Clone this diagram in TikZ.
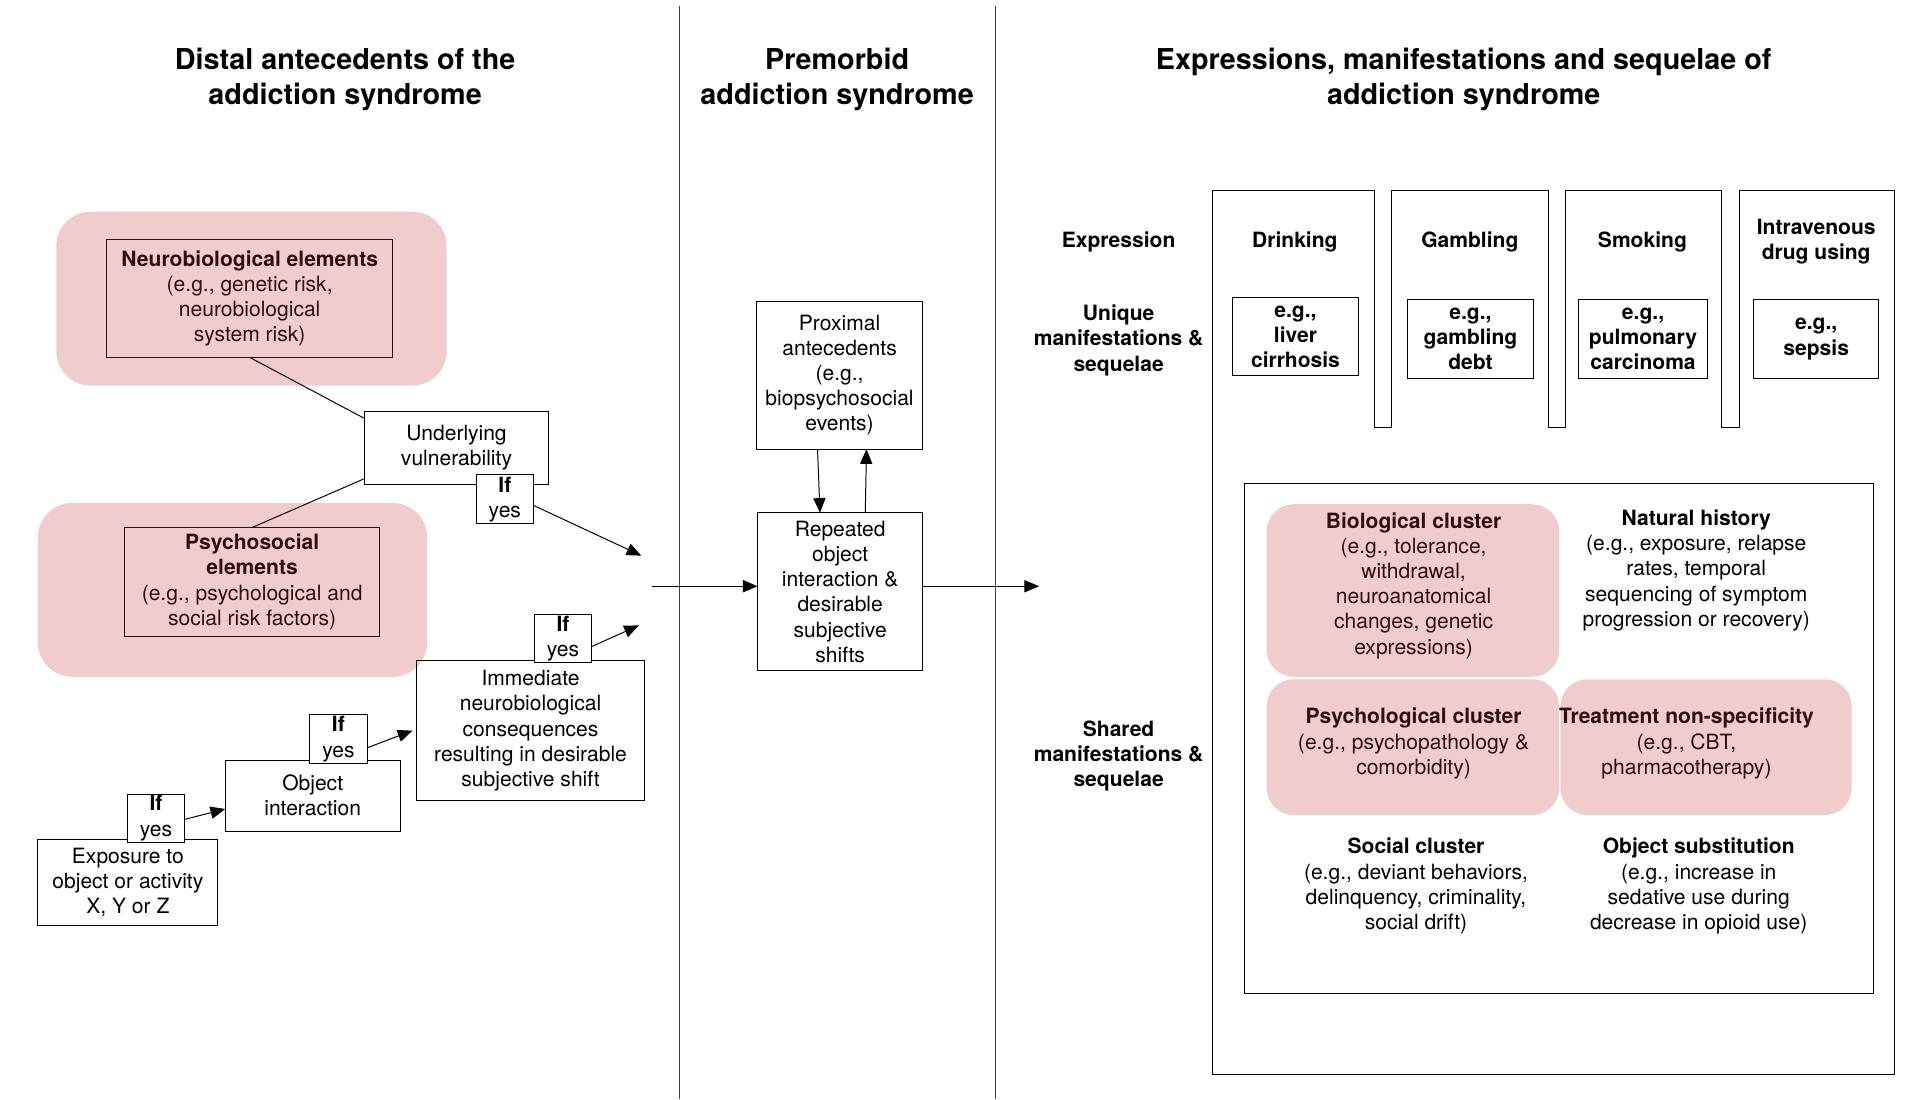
\documentclass[tikz,border=0pt]{standalone}
\usepackage{fontspec}
\setmainfont{TeX Gyre Heros}
\usetikzlibrary{arrows.meta}
\definecolor{pinkfill}{RGB}{240,204,205}
\definecolor{pinkink}{RGB}{45,15,15}
\begin{document}
\begin{tikzpicture}[x={(1pt,0pt)},y={(0pt,-1pt)},
  every node/.style={inner sep=0pt, outer sep=0pt, align=center, font=\fontsize{17.2}{20.6}\selectfont},
  box/.style={draw=black, line width=0.8pt},
  ifbox/.style={draw=black, fill=white, line width=0.8pt, minimum width=47pt, minimum height=40pt},
  pinkbg/.style={fill=pinkfill, rounded corners=28pt},
  cluster/.style={fill=pinkfill, rounded corners=22pt},
  head/.style={font=\fontsize{23.5}{28}\selectfont\bfseries},
  bold/.style={font=\fontsize{17.2}{20.6}\selectfont\bfseries},
  link/.style={line width=0.8pt},
  flow/.style={line width=0.8pt, -{Triangle[length=12pt,width=10pt]}}]
\useasboundingbox (0,0) rectangle (1568,898);

% column rules and titles
\draw[line width=0.8pt, black!75] (555,5) -- (555,898);
\draw[line width=0.8pt, black!75] (813,5) -- (813,898);
\node[head] (t1) at (282,65) {Distal antecedents of the\\addiction syndrome};
\node[head] (t2) at (684,65) {Premorbid\\addiction syndrome};
\node[head] (t3) at (1196,65) {Expressions, manifestations and sequelae of\\addiction syndrome};

% distal antecedents
\node[pinkbg, minimum width=319pt, minimum height=142pt] (neuropink) at (205.5,244) {};
\node[pinkbg, minimum width=318pt, minimum height=142pt] (psychopink) at (190,482) {};
\node[box, draw=pinkink, text=pinkink, minimum width=234pt, minimum height=96pt] (neuro) at (204,244) {\textbf{Neurobiological elements}\\(e.g., genetic risk,\\neurobiological\\system risk)};
\node[box, draw=pinkink, text=pinkink, minimum width=208pt, minimum height=89pt] (psycho) at (206,475.5) {\textbf{Psychosocial}\\\textbf{elements}\\(e.g., psychological and\\social risk factors)};
\node[box, fill=white, minimum width=150pt, minimum height=60pt] (vuln) at (373,366) {Underlying\\vulnerability};
\node[box, minimum width=187pt, minimum height=114pt] (immed) at (433.5,597) {Immediate\\neurobiological\\consequences\\resulting in desirable\\subjective shift};
\node[box, minimum width=143pt, minimum height=58pt] (objint) at (255.5,650) {Object\\interaction};
\node[box, minimum width=147pt, minimum height=70pt] (expo) at (104.5,721) {Exposure to\\object or activity\\X, Y or Z};
\node[ifbox] (ify1) at (412.5,408) {\textbf{If}\\yes};
\node[ifbox, minimum width=46pt, minimum height=39pt] (ify2) at (460,521.5) {\textbf{If}\\yes};
\node[ifbox] (ify3) at (276.5,604) {\textbf{If}\\yes};
\node[ifbox, minimum height=39pt] (ify4) at (127.5,668.5) {\textbf{If}\\yes};
\coordinate (end1) at (524,454);
\coordinate (end2) at (522,511);

\draw[link] (neuro.south) -- ([yshift=-6pt]vuln.north west);
\draw[link] ([yshift=5pt]vuln.south west) -- (psycho.north);
\draw[flow] ([yshift=-5pt]ify1.east) -- (end1);
\draw[flow] ([yshift=-7pt]ify2.east) -- (end2);
\draw[flow] ([yshift=-7pt]ify3.east) -- ([xshift=-3pt]immed.west);
\draw[flow] ([yshift=-1pt]ify4.east) -- ([yshift=-11pt]objint.west);

% premorbid syndrome
\node[box, minimum width=136pt, minimum height=121pt] (prox) at (686,306.5) {Proximal\\antecedents\\(e.g.,\\biopsychosocial\\events)};
\node[box, minimum width=135pt, minimum height=129pt] (repeat) at (686.5,483.5) {Repeated\\object\\interaction \&\\desirable\\subjective\\shifts};
\coordinate (inflow) at (533,479);
\coordinate (outflow) at (849,479);
\draw[flow] (inflow) -- (inflow -| repeat.west);
\draw[flow] (repeat.east |- outflow) -- (outflow);
\draw[flow] ([xshift=-18pt]prox.south) -- ([xshift=-16.5pt]repeat.north);
\draw[flow] ([xshift=20.5pt]repeat.north) -- ([xshift=22pt]prox.south);

% expressions and sequelae
\draw[line width=0.8pt] (991,156) -- (1123,156) -- (1123,349) -- (1137,349) -- (1137,156)
  -- (1265,156) -- (1265,349) -- (1279,349) -- (1279,156) -- (1407,156) -- (1407,349)
  -- (1421,349) -- (1421,156) -- (1548,156) -- (1548,878) -- (991,878) -- cycle;
\node[bold] (expr) at (914,198) {Expression};
\node[bold] (drink) at (1058,198) {Drinking};
\node[bold] (gamb) at (1201,198) {Gambling};
\node[bold] (smok) at (1342,198) {Smoking};
\node[bold] (ivdu) at (1484,197.5) {Intravenous\\drug using};
\node[bold] (unique) at (914,278) {Unique\\manifestations \&\\sequelae};
\node[box, bold, minimum width=103pt, minimum height=64pt] (liver) at (1058.5,275) {e.g.,\\liver\\cirrhosis};
\node[box, bold, minimum width=103pt, minimum height=64pt] (debt) at (1201.5,277) {e.g.,\\gambling\\debt};
\node[box, bold, minimum width=105pt, minimum height=64pt] (pulm) at (1342.5,277) {e.g.,\\pulmonary\\carcinoma};
\node[box, bold, minimum width=102pt, minimum height=64pt] (sepsis) at (1484,277) {e.g.,\\sepsis};
\node[bold] (shared) at (914,617.5) {Shared\\manifestations \&\\sequelae};

\node[box, minimum width=514pt, minimum height=417pt] (sharedbox) at (1274,603.5) {};
\node[cluster, minimum width=239pt, minimum height=141pt] (biopink) at (1154.5,482.5) {};
\node[cluster, minimum width=239pt, minimum height=111pt] (psypink) at (1154.5,610.5) {};
\node[cluster, minimum width=238pt, minimum height=111pt] (treatpink) at (1394,610.5) {};
\node[text=pinkink] (bio) at (1155,478.5) {\textbf{Biological cluster}\\(e.g., tolerance,\\withdrawal,\\neuroanatomical\\changes, genetic\\expressions)};
\node (natural) at (1386,466) {\textbf{Natural history}\\(e.g., exposure, relapse\\rates, temporal\\sequencing of symptom\\progression or recovery)};
\node[text=pinkink] (psych) at (1155,607.5) {\textbf{Psychological cluster}\\(e.g., psychopathology \&\\comorbidity)};
\node[text=pinkink] (treat) at (1378,607.5) {\textbf{Treatment non-specificity}\\(e.g., CBT,\\pharmacotherapy)};
\node (social) at (1157,724) {\textbf{Social cluster}\\(e.g., deviant behaviors,\\delinquency, criminality,\\social drift)};
\node (subst) at (1388,724) {\textbf{Object substitution}\\(e.g., increase in\\sedative use during\\decrease in opioid use)};
\end{tikzpicture}
\end{document}
